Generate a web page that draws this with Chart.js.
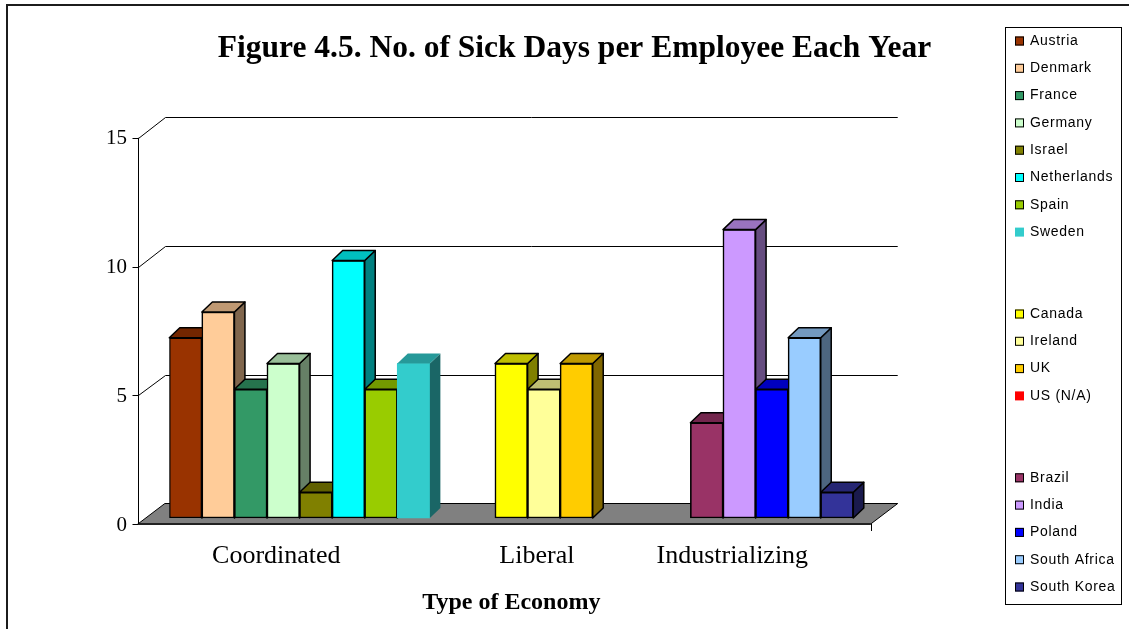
<!DOCTYPE html>
<html>
<head>
<meta charset="utf-8">
<script src="https://cdn.jsdelivr.net/npm/chart.js@4.4.1/dist/chart.umd.min.js"></script>
<style>
  html, body { margin: 0; padding: 0; background: #fff; }
  #wrap { position: relative; width: 1129px; height: 629px; overflow: hidden; }
  #frame { position: absolute; left: 6px; top: 4px; width: 1300px; height: 800px;
           border-top: 2px solid #1c1c1c; border-left: 2px solid #1c1c1c; }
  canvas { position: absolute; left: 0; top: 0; }
</style>
</head>
<body>
<div id="wrap"><div id="frame"></div><canvas id="chart" width="1129" height="629"></canvas></div>
<script>
// ---- data: sick days per employee per year, grouped by type of economy ----
const groupNames = ['Coordinated', 'Liberal', 'Industrializing'];
const coordinatedCountries = ['Austria', 'Denmark', 'France', 'Germany', 'Israel', 'Netherlands', 'Spain', 'Sweden'];
const coordinatedDays = [7, 8, 5, 6, 1, 10, 5, 6];
const liberalCountries = ['Canada', 'Ireland', 'UK', 'US (N/A)'];
const liberalDays = [6, 5, 6, null];
const industrializingCountries = ['Brazil', 'India', 'Poland', 'South Africa', 'South Korea'];
const industrializingDays = [3.7, 11.2, 5, 7, 1];
const yTicks = [0, 5, 10, 15];

// ---- styling ----
const seriesColors = {
  'Austria': '#993300', 'Denmark': '#FFCC99', 'France': '#339966', 'Germany': '#CCFFCC',
  'Israel': '#808000', 'Netherlands': '#00FFFF', 'Spain': '#99CC00', 'Sweden': '#33CCCC',
  'Canada': '#FFFF00', 'Ireland': '#FFFF99', 'UK': '#FFCC00', 'US (N/A)': '#FF0000',
  'Brazil': '#993366', 'India': '#CC99FF', 'Poland': '#0000FF', 'South Africa': '#99CCFF',
  'South Korea': '#333399'
};
const borderless = ['Sweden', 'US (N/A)'];
const SERIF = '"Liberation Serif", "Times New Roman", serif';
const SANS = '"Liberation Sans", Arial, sans-serif';
const DEPTH = { front: { dx: -7, dy: 6 }, back: { dx: 20, dy: -14.5 }, bar: { dx: 10.5, dy: -10 } };
const GROUP_GAP = 2;
const FLOOR_MARGIN = 0.75;   // floor overhang beyond the first/last slot, in slot widths

// ---- build one slot per country, with empty slots between groups ----
const groups = [
  { name: groupNames[0], countries: coordinatedCountries, days: coordinatedDays },
  { name: groupNames[1], countries: liberalCountries, days: liberalDays },
  { name: groupNames[2], countries: industrializingCountries, days: industrializingDays }
];
const slots = [];       // dataset index per slot, null for spacer
const slotLabels = [];
const series = [];
groups.forEach((g, gi) => {
  if (gi > 0) for (let k = 0; k < GROUP_GAP; k++) { slots.push(null); slotLabels.push(''); }
  const start = slots.length;
  g.countries.forEach((c, ci) => {
    slots.push(series.length);
    slotLabels.push('');
    series.push({ label: c, value: g.days[ci], slot: slots.length - 1 });
  });
  slotLabels[start + Math.floor(g.countries.length / 2) - 1] = g.name;
});

const datasets = series.map(s => {
  const outlined = !borderless.includes(s.label);
  return {
    label: s.label,
    data: slots.map((_, i) => (i === s.slot ? s.value : null)),
    backgroundColor: seriesColors[s.label],
    borderColor: '#000',
    borderWidth: outlined ? 1.5 : 0,
    borderSkipped: false,
    skipNull: true,
    barPercentage: 1,
    categoryPercentage: 1,
    xAxisID: 'x',
    yAxisID: 'y'
  };
});

function shade(hex, f) {
  const n = parseInt(hex.slice(1), 16);
  const r = Math.round(((n >> 16) & 255) * f), g = Math.round(((n >> 8) & 255) * f), b = Math.round((n & 255) * f);
  return `rgb(${r},${g},${b})`;
}
function crisp(v) { return Math.round(v) + 0.5; }

// walls, floor and axis line of the 3-D frame
const wallsPlugin = {
  id: 'walls',
  beforeDatasetsDraw(chart) {
    const { ctx, chartArea: a, scales: { x, y } } = chart;
    const slot = x.getPixelForValue(1) - x.getPixelForValue(0);
    const L = a.left - slot * FLOOR_MARGIN, R = a.right + slot * FLOOR_MARGIN;
    const F = DEPTH.front, B = DEPTH.back;
    const y0 = y.getPixelForValue(0);
    const yTop = y.getPixelForValue(y.max);
    const line = (x1, y1, x2, y2) => { ctx.beginPath(); ctx.moveTo(x1, y1); ctx.lineTo(x2, y2); ctx.stroke(); };
    ctx.save();
    ctx.strokeStyle = '#000';
    ctx.lineWidth = 1;
    const fx = crisp(L + F.dx), bx = crisp(L + B.dx);
    y.ticks.forEach(t => {
      const py = y.getPixelForValue(t.value);
      if (t.value > 0) {
        line(fx, crisp(py + F.dy), bx, crisp(py + B.dy));
        line(bx, crisp(py + B.dy), R + B.dx, crisp(py + B.dy));
      }
      line(fx - 6, crisp(py + F.dy), fx, crisp(py + F.dy));
    });
    // floor
    ctx.beginPath();
    ctx.moveTo(L + F.dx, y0 + F.dy);
    ctx.lineTo(R + F.dx, y0 + F.dy);
    ctx.lineTo(R + B.dx, y0 + B.dy);
    ctx.lineTo(L + B.dx, y0 + B.dy);
    ctx.closePath();
    ctx.fillStyle = '#808080';
    ctx.fill();
    ctx.stroke();
    ctx.lineWidth = 2;
    ctx.strokeStyle = '#222';
    line(L + F.dx, y0 + F.dy, R + F.dx, y0 + F.dy);
    // vertical axis line and end tick of the category axis
    ctx.lineWidth = 1;
    ctx.strokeStyle = '#000';
    line(fx, yTop + F.dy, fx, y0 + F.dy);
    line(crisp(R + F.dx), y0 + F.dy, crisp(R + F.dx), y0 + F.dy + 7);
    ctx.restore();
  }
};

// top and side faces of each column, drawn left to right so nearer faces cover farther ones
const columnsPlugin = {
  id: 'columns3d',
  afterDatasetsDraw(chart) {
    const { ctx } = chart;
    const D = DEPTH.bar;
    const bars = [];
    chart.data.datasets.forEach((ds, i) => {
      chart.getDatasetMeta(i).data.forEach((el, j) => {
        if (ds.data[j] !== null && ds.data[j] !== undefined) bars.push({ el, ds });
      });
    });
    bars.sort((p, q) => p.el.x - q.el.x);
    const face = (pts, fill, outlined) => {
      ctx.beginPath();
      pts.forEach(([px, py], i) => (i ? ctx.lineTo(px, py) : ctx.moveTo(px, py)));
      ctx.closePath();
      ctx.fillStyle = fill;
      ctx.fill();
      if (outlined) { ctx.lineWidth = 1.5; ctx.strokeStyle = '#000'; ctx.stroke(); }
    };
    ctx.save();
    ctx.lineJoin = 'round';
    bars.forEach((b, k) => {
      const { x, y, base, width } = b.el;
      const l = x - width / 2, r = x + width / 2;
      const top = Math.min(y, base), bot = Math.max(y, base);
      const col = b.ds.backgroundColor;
      const outlined = b.ds.borderWidth > 0;
      face([[r, top], [r + D.dx, top + D.dy], [r + D.dx, bot + D.dy], [r, bot]], shade(col, 0.5), outlined);
      face([[l, top], [r, top], [r + D.dx, top + D.dy], [l + D.dx, top + D.dy]], shade(col, 0.75), outlined);
      const next = bars[k + 1];
      if (next) next.el.draw(ctx);
    });
    ctx.restore();
  }
};

// boxed legend: one row per slot, blank rows between groups
const legendPlugin = {
  id: 'boxLegend',
  afterDraw(chart, args, o) {
    const { ctx } = chart;
    const right = chart.width - o.inset, left = right - o.width;
    ctx.save();
    ctx.strokeStyle = '#000';
    ctx.lineWidth = 1;
    ctx.strokeRect(crisp(left), crisp(o.top), o.width, o.bottom - o.top);
    ctx.font = `14px ${SANS}`;
    if ('letterSpacing' in ctx) ctx.letterSpacing = '0.7px';
    ctx.textBaseline = 'middle';
    ctx.textAlign = 'left';
    slots.forEach((di, k) => {
      if (di === null) return;
      const ds = chart.data.datasets[di];
      const cy = o.top + o.first + k * o.step;
      ctx.fillStyle = ds.backgroundColor;
      ctx.fillRect(left + 10, cy - 4.5, 9, 9);
      if (ds.borderWidth > 0) ctx.strokeRect(left + 10.5, cy - 4, 8, 8);
      ctx.fillStyle = '#000';
      ctx.fillText(ds.label, left + 25, cy);
    });
    ctx.restore();
  }
};

Chart.defaults.color = '#000';

new Chart(document.getElementById('chart'), {
  type: 'bar',
  data: { labels: slotLabels, datasets },
  plugins: [wallsPlugin, columnsPlugin, legendPlugin],
  options: {
    responsive: false,
    animation: false,
    events: [],
    layout: { padding: { left: 20, right: 0, top: 0, bottom: 0 } },
    plugins: {
      legend: { display: false },
      tooltip: { enabled: false },
      title: {
        display: true,
        text: 'Figure 4.5. No. of Sick Days per Employee Each Year',
        color: '#000',
        font: { family: SERIF, size: 31.5, weight: 'bold' },
        padding: { top: 30, bottom: 63.95 }
      },
      boxLegend: { inset: 8, width: 116, top: 27, bottom: 604, first: 14, step: 27.3 }
    },
    scales: {
      x: {
        type: 'category',
        offset: true,
        grid: { display: false, drawTicks: false },
        border: { display: false },
        ticks: {
          autoSkip: false, maxRotation: 0, minRotation: 0,
          padding: 23, labelOffset: -7,
          color: '#000', font: { family: SERIF, size: 26 }
        },
        title: {
          display: true, text: 'Type of Economy', color: '#000',
          font: { family: SERIF, size: 24, weight: 'bold' },
          padding: { top: 0, bottom: 11.6 }
        },
        afterFit(s) { s.height = 111; }
      },
      y: {
        type: 'linear',
        position: 'left',
        min: 0, max: 15,
        grid: { display: false, drawTicks: false },
        border: { display: false },
        afterBuildTicks(s) { s.ticks = yTicks.map(v => ({ value: v })); },
        ticks: { padding: 42.3, labelOffset: 7, color: '#000', font: { family: SERIF, size: 21 } },
        afterFit(s) { s.width = 149.3; }
      },
      gutter: {
        type: 'linear',
        position: 'right',
        display: true,
        grid: { display: false, drawTicks: false },
        border: { display: false },
        ticks: { display: false },
        afterFit(s) { s.width = 275.7; }
      }
    }
  }
});
</script>
</body>
</html>
